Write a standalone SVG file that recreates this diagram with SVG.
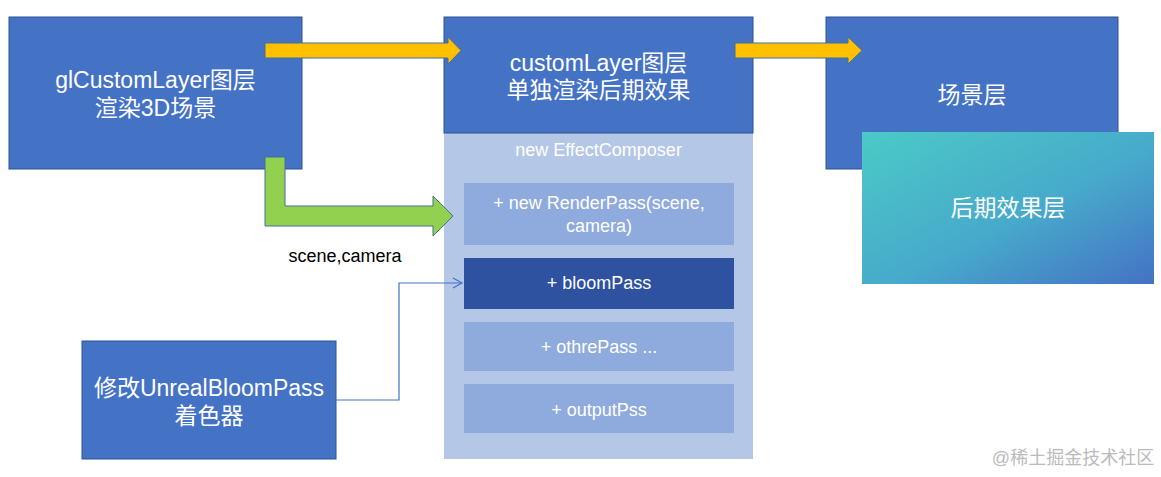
<svg xmlns="http://www.w3.org/2000/svg" width="1161" height="477" viewBox="0 0 1161 477">
<defs>
<style>
.box{fill:#4472C4;stroke:#2F528F;stroke-width:1}
.t{font-family:"Liberation Sans","Noto Sans CJK SC",sans-serif;fill:#FFFFFF;text-anchor:middle}
.big{font-size:23px}
.small{font-size:18px}
.sub{fill:#8FAADC}
.yarrow{fill:#FFC000;stroke:#41719C;stroke-width:1}
.garrow{fill:#92D050;stroke:#41719C;stroke-width:1}
.conn{fill:none;stroke:#4472C4;stroke-width:1.2}
</style>
<linearGradient id="grad" x1="0" y1="0" x2="1" y2="1">
<stop offset="0" stop-color="#4BCAC6"/>
<stop offset="0.55" stop-color="#47AACB"/>
<stop offset="1" stop-color="#4472C4"/>
</linearGradient>
<marker id="open" markerWidth="12" markerHeight="12" refX="10" refY="6" orient="auto" markerUnits="userSpaceOnUse">
<path d="M1,1 L10,6 L1,11" fill="none" stroke="#4472C4" stroke-width="1.2"/>
</marker>
</defs>

<g id="node-glcustomlayer">
<rect class="box" x="9" y="17" width="293" height="152"/>
<text class="t big" x="155.5" y="88">glCustomLayer图层</text>
<text class="t big" x="155.5" y="116">渲染3D场景</text>
</g>

<g id="node-customlayer">
<rect x="444" y="133" width="309" height="326" fill="#B4C7E7"/>
<rect class="box" x="444" y="17" width="309" height="116"/>
<text class="t big" x="598.5" y="71">customLayer图层</text>
<text class="t big" x="598.5" y="98">单独渲染后期效果</text>
<text class="t small" x="598.5" y="156">new EffectComposer</text>
</g>

<g id="node-renderpass">
<rect class="sub" x="464" y="183" width="270" height="62"/>
<text class="t small" x="599" y="209">+ new RenderPass(scene,</text>
<text class="t small" x="599" y="232">camera)</text>
</g>

<g id="node-bloompass">
<rect x="464" y="258" width="270" height="51" fill="#2F52A0"/>
<text class="t small" x="599" y="289">+ bloomPass</text>
</g>

<g id="node-othrepass">
<rect class="sub" x="464" y="322" width="270" height="49"/>
<text class="t small" x="599" y="353">+ othrePass ...</text>
</g>

<g id="node-outputpss">
<rect class="sub" x="464" y="384" width="270" height="49"/>
<text class="t small" x="599" y="416">+ outputPss</text>
</g>

<g id="node-scene">
<rect class="box" x="826" y="17" width="292" height="152"/>
<text class="t big" x="972" y="103">场景层</text>
</g>

<g id="node-post">
<rect x="862" y="132" width="292" height="152" fill="url(#grad)"/>
<text class="t big" x="1008" y="216">后期效果层</text>
</g>

<g id="node-unrealbloom">
<rect class="box" x="82" y="341" width="254" height="118"/>
<text class="t big" x="209" y="396">修改UnrealBloomPass</text>
<text class="t big" x="209" y="424">着色器</text>
</g>

<g id="connectors">
<polygon class="yarrow" points="265,43 448,43 448,37 461,50.5 448,64 448,58 265,58"/>
<polygon class="yarrow" points="735,43 848,43 848,37 862,50.5 848,64 848,58 735,58"/>
<polygon class="garrow" points="265,157 285,157 285,206 433,206 433,196 453,216 433,236 433,226 265,226"/>
<polyline class="conn" points="336,400 399,400 399,283 462,283" marker-end="url(#open)"/>
</g>

<text x="345" y="262" font-family="Liberation Sans, sans-serif" font-size="18" fill="#000000" text-anchor="middle">scene,camera</text>

<text x="1073" y="464" font-family="Liberation Sans, Noto Sans CJK SC, sans-serif" font-size="18" fill="#BBBBBB" text-anchor="middle">@稀土掘金技术社区</text>
</svg>
